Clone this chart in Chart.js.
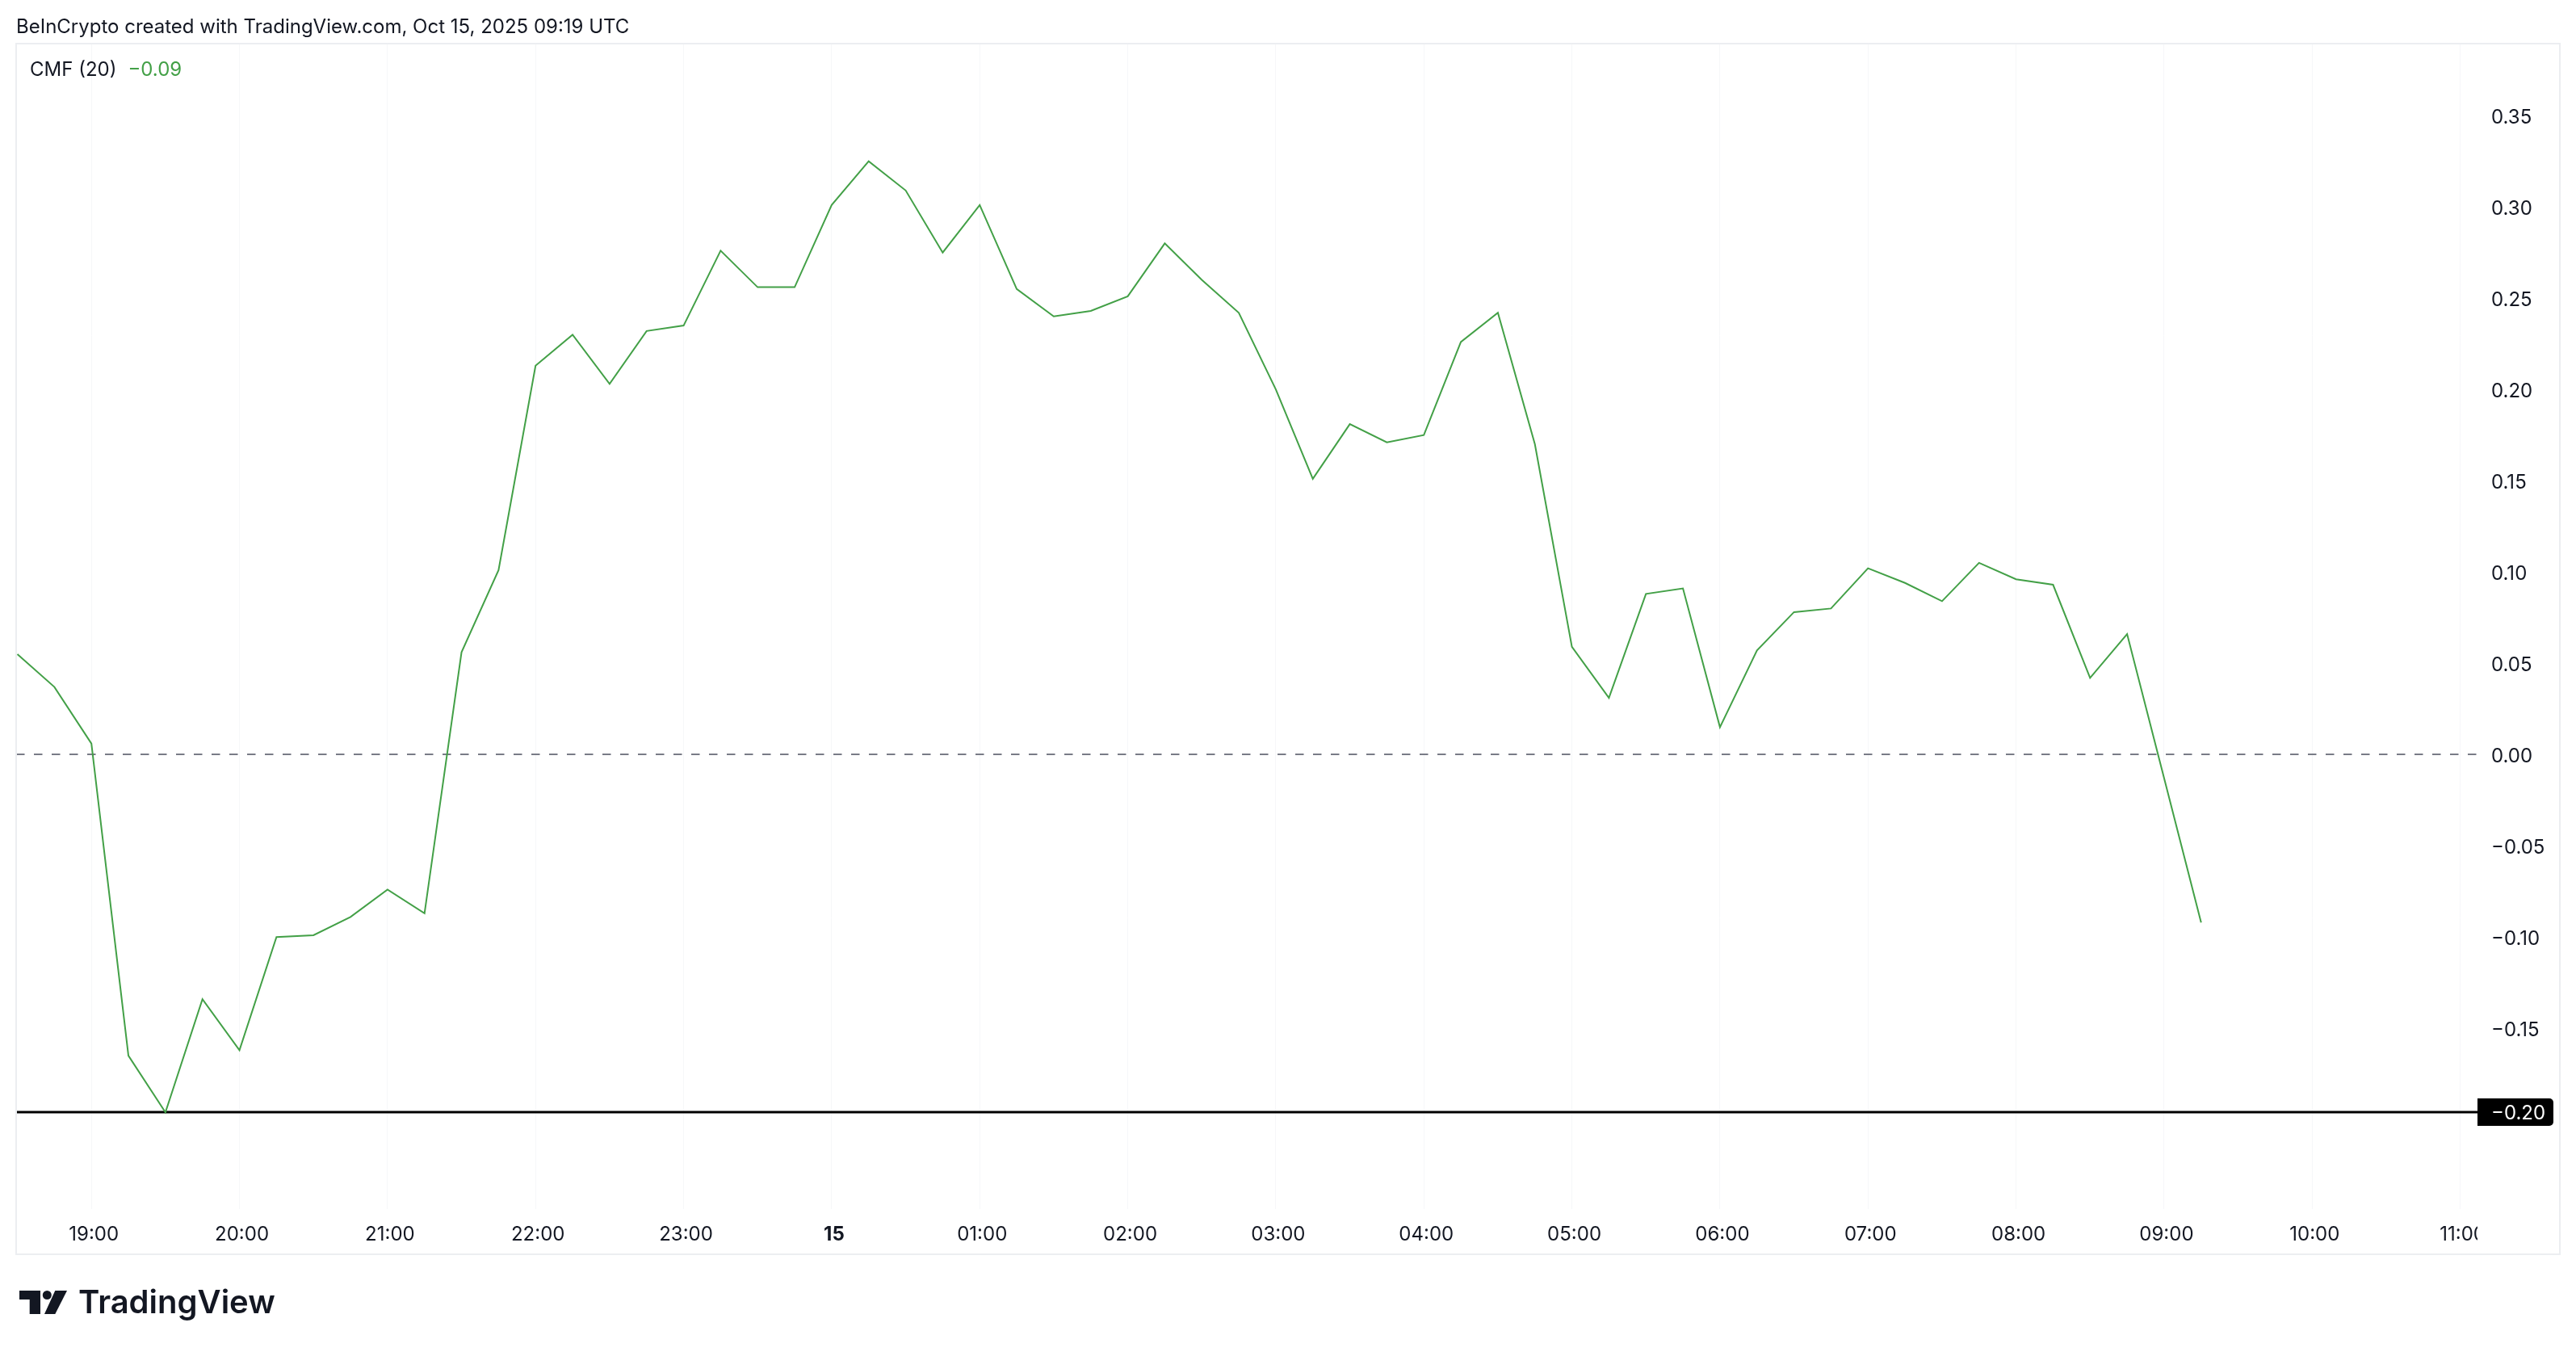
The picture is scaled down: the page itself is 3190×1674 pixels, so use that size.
<!DOCTYPE html>
<html>
<head>
<meta charset="utf-8">
<script src="https://cdn.jsdelivr.net/npm/chart.js@4.4.1/dist/chart.umd.min.js"></script>
<style>
    html, body { margin: 0; padding: 0; background: #fff; }
    body { width: 3190px; height: 1674px; position: relative; overflow: hidden; font-family: Inter, "Noto Sans", sans-serif; color: #131722; }
    #cmfChart { position: absolute; left: 0; top: 0; }
    .header { position: absolute; left: 20px; top: 19px; font-size: 24px; line-height: 28px; white-space: nowrap; }
    .legend { position: absolute; left: 37px; top: 71px; font-size: 24px; line-height: 30px; white-space: nowrap; }
    .legend .val { color: #43a047; margin-left: 14px; }
    .logo-icon { position: absolute; left: 24px; top: 1598px; }
    .logo-text { position: absolute; left: 97px; top: 1592px; font-size: 40px; line-height: 40px; font-weight: 600; letter-spacing: 0; white-space: nowrap; }
</style>
</head>
<body>
<canvas id="cmfChart" width="3190" height="1674"></canvas>
<div class="header">BeInCrypto created with TradingView.com, Oct 15, 2025 09:19 UTC</div>
<div class="legend">CMF (20)<span class="val" id="lastValue"></span></div>
<svg class="logo-icon" width="60" height="30" viewBox="0 0 60 30">
    <path d="M0 0 H26 V29 H12.7 V11 H0 Z" fill="#131722"/>
    <circle cx="34.3" cy="5.5" r="5.5" fill="#131722"/>
    <path d="M44.3 0 H59 L44.3 29 H31 Z" fill="#131722"/>
</svg>
<div class="logo-text">TradingView</div>

<script>
// 15 minute bars, first bar at 18:30 UTC (Oct 14)
const startTime = '18:30';
const stepMinutes = 15;

// CMF (20) values
const cmfValues = [
    0.055, 0.037, 0.006, -0.165, -0.196, -0.134, -0.162, -0.100, -0.099, -0.089,
    -0.074, -0.087, 0.056, 0.101, 0.213, 0.230, 0.203, 0.232, 0.235, 0.276,
    0.256, 0.256, 0.301, 0.325, 0.309, 0.275, 0.301, 0.255, 0.240, 0.243,
    0.251, 0.280, 0.260, 0.242, 0.200, 0.151, 0.181, 0.171, 0.175, 0.226,
    0.242, 0.170, 0.059, 0.031, 0.088, 0.091, 0.015, 0.057, 0.078, 0.080,
    0.102, 0.094, 0.084, 0.105, 0.096, 0.093, 0.042, 0.066, -0.013, -0.092
];

const tickTimes = ['19:00', '20:00', '21:00', '22:00', '23:00', '00:00', '01:00', '02:00', '03:00',
    '04:00', '05:00', '06:00', '07:00', '08:00', '09:00', '10:00', '11:00'];
const tickLabels = ['19:00', '20:00', '21:00', '22:00', '23:00', '15', '01:00', '02:00', '03:00',
    '04:00', '05:00', '06:00', '07:00', '08:00', '09:00', '10:00', '11:00'];

const yTickValues = [0.35, 0.30, 0.25, 0.20, 0.15, 0.10, 0.05, 0.00, -0.05, -0.10, -0.15];

// horizontal line drawn at the low
const levelValue = -0.196;

const lineColor = '#43a047';
const textColor = '#131722';

function minutesFromStart(t) {
    const [h, m] = t.split(':').map(Number);
    const [sh, sm] = startTime.split(':').map(Number);
    let d = (h * 60 + m) - (sh * 60 + sm);
    if (d < 0) d += 24 * 60;
    return d;
}

function formatValue(v) {
    const s = Math.abs(v).toFixed(2);
    return (v < 0 && s !== '0.00') ? '\u2212' + s : s;
}

document.getElementById('lastValue').textContent = formatValue(cmfValues[cmfValues.length - 1]);

const points = cmfValues.map((v, i) => ({ x: i * stepMinutes, y: v }));

const overlayPlugin = {
    id: 'overlay',
    beforeDatasetsDraw(chart) {
        const { ctx, chartArea, scales: { y } } = chart;
        const y0 = Math.round(y.getPixelForValue(0));
        ctx.save();
        // zero line
        ctx.strokeStyle = '#787b86';
        ctx.lineWidth = 2;
        ctx.setLineDash([10.5, 11.5]);
        ctx.beginPath();
        ctx.moveTo(chartArea.left, y0);
        ctx.lineTo(chartArea.right, y0);
        ctx.stroke();
        // level line
        const yl = Math.round(y.getPixelForValue(levelValue));
        ctx.setLineDash([]);
        ctx.strokeStyle = '#000';
        ctx.lineWidth = 3;
        ctx.beginPath();
        ctx.moveTo(chartArea.left, yl);
        ctx.lineTo(chartArea.right, yl);
        ctx.stroke();
        ctx.restore();
    },
    afterDraw(chart) {
        const { ctx, chartArea, scales: { y } } = chart;
        ctx.save();
        // time scale is cut off at the price scale
        ctx.fillStyle = '#fff';
        ctx.fillRect(chartArea.right, chartArea.bottom + 1, 101, 55);

        // price label of the level line
        const yl = Math.round(y.getPixelForValue(levelValue));
        ctx.fillStyle = '#000';
        ctx.beginPath();
        ctx.roundRect(chartArea.right, yl - 17, 94, 34, [0, 5, 5, 0]);
        ctx.fill();
        ctx.fillStyle = '#fff';
        ctx.font = '24px Inter, "Noto Sans", sans-serif';
        ctx.textBaseline = 'middle';
        ctx.textAlign = 'left';
        ctx.fillText(formatValue(levelValue), chartArea.right + 17, yl + 2);

        // frame
        ctx.strokeStyle = '#eceef1';
        ctx.lineWidth = 2;
        ctx.strokeRect(20, 54, 3150, 1499);
        ctx.restore();
    }
};

Chart.defaults.font.family = 'Inter, "Noto Sans", sans-serif';
Chart.defaults.color = textColor;

new Chart(document.getElementById('cmfChart'), {
    type: 'line',
    data: {
        datasets: [{
            label: 'CMF (20)',
            data: points,
            borderColor: lineColor,
            borderWidth: 2,
            pointRadius: 0,
            tension: 0,
            fill: false
        }]
    },
    options: {
        responsive: false,
        devicePixelRatio: 1,
        animation: false,
        layout: {
            padding: { left: 20, top: 55, right: 20, bottom: 121 }
        },
        plugins: {
            legend: { display: false },
            tooltip: { enabled: false }
        },
        scales: {
            x: {
                type: 'linear',
                position: 'bottom',
                min: -0.5,
                max: 997,
                afterBuildTicks: scale => {
                    scale.ticks = tickTimes.map(t => ({ value: minutesFromStart(t) }));
                },
                afterFit: scale => { scale.height = 56; },
                grid: { color: '#f6f7f9', lineWidth: 1, drawTicks: false },
                border: { display: false },
                ticks: {
                    autoSkip: false,
                    maxRotation: 0,
                    padding: 17,
                    labelOffset: 3,
                    color: textColor,
                    font: ctx => ({ size: 24, weight: tickLabels[ctx.index] === '15' ? 'bold' : 'normal' }),
                    callback: (value, index) => tickLabels[index]
                }
            },
            y: {
                type: 'linear',
                position: 'right',
                min: -0.249,
                max: 0.389,
                afterBuildTicks: scale => {
                    scale.ticks = yTickValues.map(v => ({ value: v }));
                },
                afterFit: scale => { scale.width = 102; },
                grid: { display: false, drawTicks: false },
                border: { display: false },
                ticks: {
                    padding: 17,
                    labelOffset: 3,
                    color: textColor,
                    font: { size: 24 },
                    callback: value => formatValue(value)
                }
            }
        }
    },
    plugins: [overlayPlugin]
});
</script>
</body>
</html>
